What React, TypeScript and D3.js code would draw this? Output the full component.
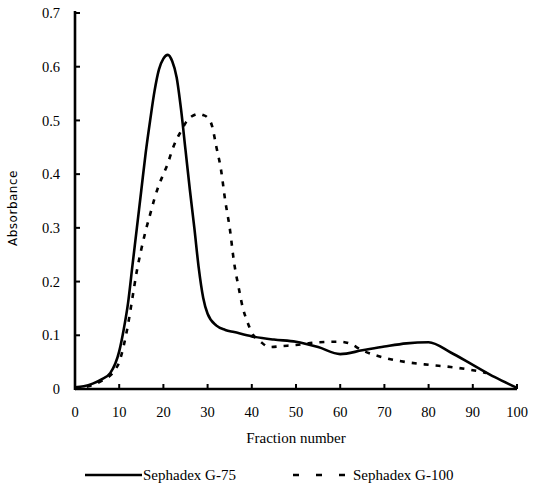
import React from "react";
import * as d3 from "d3";

const g75X = [0, 2, 4, 6, 8, 10, 11, 12, 13, 14, 15, 16, 17, 18, 19, 20, 21, 22, 23, 24, 25, 26, 27, 28, 29, 30, 32, 34, 36, 40, 45, 50, 55, 60, 65, 70, 75, 80, 85, 90, 95, 100];
const g75Y = [0.003, 0.005, 0.01, 0.018, 0.03, 0.07, 0.11, 0.16, 0.23, 0.3, 0.37, 0.44, 0.5, 0.555, 0.595, 0.615, 0.622, 0.61, 0.58, 0.52, 0.445, 0.37, 0.3, 0.225, 0.17, 0.14, 0.118, 0.11, 0.106, 0.098, 0.092, 0.088, 0.078, 0.065, 0.072, 0.079, 0.085, 0.087, 0.068, 0.045, 0.022, 0.002];

const g100X = [0, 3, 6, 9, 10, 11, 12, 13, 14, 15, 16, 17, 18, 19, 20, 21, 22, 23, 24, 25, 26, 27, 28, 29, 30, 31, 32, 33, 34, 35, 36, 37, 38, 39, 40, 42, 44, 47, 50, 55, 60, 62, 65, 70, 75, 80, 85, 90, 93];
const g100Y = [0, 0.005, 0.015, 0.035, 0.05, 0.08, 0.12, 0.17, 0.22, 0.26, 0.295, 0.325, 0.355, 0.38, 0.4, 0.42, 0.445, 0.465, 0.48, 0.495, 0.505, 0.51, 0.512, 0.51, 0.505, 0.49, 0.45, 0.41, 0.35, 0.3, 0.235, 0.19, 0.15, 0.125, 0.105, 0.088, 0.078, 0.08, 0.082, 0.087, 0.088, 0.085, 0.072, 0.058, 0.05, 0.045, 0.041, 0.035, 0.03];

const xTicks = [0, 10, 20, 30, 40, 50, 60, 70, 80, 90, 100];
const yTicks = [0, 0.1, 0.2, 0.3, 0.4, 0.5, 0.6, 0.7];
const seriesNames = ["Sephadex G-75", "Sephadex G-100"];

const W = 537;
const H = 487;
const FONT = "'Liberation Serif', 'DejaVu Serif', serif";

export default function App() {
  const x = d3.scaleLinear().domain([0, 100]).range([75, 517]);
  const y = d3.scaleLinear().domain([0, 0.7]).range([389, 13]);
  const line = d3
    .line<[number, number]>()
    .x((d) => x(d[0]))
    .y((d) => y(d[1]))
    .curve(d3.curveMonotoneX);
  const d75 = line(g75X.map((v, i) => [v, g75Y[i]]));
  const d100 = line(g100X.map((v, i) => [v, g100Y[i]]));
  const fmtY = (v: number) => (v === 0 ? "0" : d3.format(".1f")(v));

  return (
    <svg
      width={W}
      height={H}
      style={{ position: "absolute", left: 0, top: 0, background: "#fff" }}
      fontFamily={FONT}
    >
      {/* curves */}
      <path d={d75 || ""} fill="none" stroke="#000" strokeWidth={2.6} strokeLinejoin="round" />
      <path d={d100 || ""} fill="none" stroke="#000" strokeWidth={2.6} strokeDasharray="5 7" />

      {/* y axis */}
      <line x1={x(0)} x2={x(0)} y1={y(0.7) - 2} y2={y(0) + 1} stroke="#000" strokeWidth={2.6} />
      {yTicks.map((t) => (
        <g key={"y" + t}>
          <line x1={x(0)} x2={x(0) + 5} y1={y(t)} y2={y(t)} stroke="#000" strokeWidth={2} />
          <text x={60} y={y(t)} dy="0.35em" textAnchor="end" fontSize={14.5}>
            {fmtY(t)}
          </text>
        </g>
      ))}
      <text
        transform={`translate(17,${208}) rotate(-90)`}
        textAnchor="middle"
        fontSize={12}
        fontFamily="'DejaVu Sans', sans-serif"
        letterSpacing={0.5}
      >
        Absorbance
      </text>

      {/* x axis */}
      <line x1={x(0)} x2={x(100)} y1={y(0)} y2={y(0)} stroke="#000" strokeWidth={2.6} />
      {xTicks.map((t) => (
        <g key={"x" + t}>
          <line x1={x(t)} x2={x(t)} y1={y(0)} y2={y(0) - 5} stroke="#000" strokeWidth={2} />
          <text x={x(t)} y={412} dy="0.35em" textAnchor="middle" fontSize={14.5}>
            {t}
          </text>
        </g>
      ))}
      <text x={296} y={438} dy="0.35em" textAnchor="middle" fontSize={15}>
        Fraction number
      </text>

      {/* legend */}
      <line x1={85} x2={142} y1={475} y2={475} stroke="#000" strokeWidth={2.6} />
      <text x={143} y={475} dy="0.35em" fontSize={15}>
        {seriesNames[0]}
      </text>
      <line x1={293} x2={345} y1={475} y2={475} stroke="#000" strokeWidth={2.6} strokeDasharray="6 17" />
      <text x={353} y={475} dy="0.35em" fontSize={15}>
        {seriesNames[1]}
      </text>
    </svg>
  );
}
